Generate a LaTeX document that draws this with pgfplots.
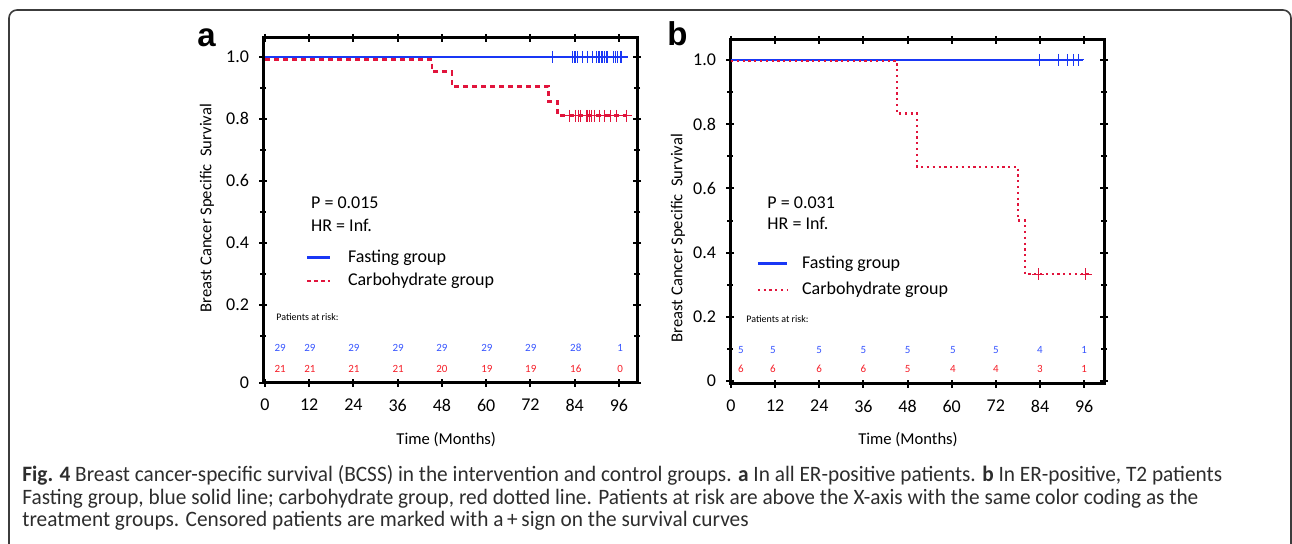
\documentclass[border=0pt]{standalone}
\usepackage{pgfplots}
\pgfplotsset{compat=1.18}
\usepackage{fontspec}
\setmainfont{Carlito}
\newfontfamily\capfont[FakeStretch=0.968]{Carlito}
\newfontfamily\panelfont{Liberation Sans}

\definecolor{kmblue}{RGB}{25,55,245}
\definecolor{kmred}{RGB}{225,20,60}
\definecolor{txtblue}{RGB}{55,85,255}
\definecolor{txtred}{RGB}{245,30,40}
\definecolor{capgray}{RGB}{45,45,45}
\definecolor{framegray}{RGB}{60,60,60}

\pgfplotsset{
  kmaxis/.style={
    scale only axis, width=187pt,
    axis line style={line width=1.5pt},
    tick style={line width=1pt, black},
    tick align=center, major tick length=4pt, minor tick length=3pt,
    xtick={0,12,...,96},
    minor ytick={0.1,0.3,0.5,0.7,0.9},
    yticklabels={0,0.2,0.4,0.6,0.8,1.0},
    ticklabel style={font=\fontsize{9}{10}\selectfont},
    /pgf/number format/assume math mode=true,
    xticklabel style={yshift=-2.5pt},
    yticklabel style={xshift=-1.5pt},
    label style={font=\fontsize{8.3}{9}\selectfont},
    xlabel={Time (Months)},
    ylabel={Breast Cancer Specific\ \ Survival},
    clip=false,
  },
  bluecurve/.style={kmblue, line width=1.3pt},
  censor/.style={only marks, mark=+, mark size=3pt, mark options={solid, line width=0.5pt}},
}
\tikzset{
  risk/.style={font=\fontsize{5.5}{6}\selectfont},
  note/.style={anchor=west, font=\fontsize{9}{10}\selectfont},
}
% row of at-risk numbers: #1 colour, #2 y, #3 list time/count
\newcommand\riskrow[3]{%
  \foreach \tm/\nm in {#3}{%
    \edef\tmp{\noexpand\node[risk, #1] at (axis cs:\tm,#2) {\nm};}\tmp}}

\begin{document}
\begin{tikzpicture}[x=1pt,y=1pt]
\useasboundingbox (0,0) rectangle (646,272);
\begin{scope}
  \clip (0,0) rectangle (646,272);
  \draw[framegray, line width=0.8pt, rounded corners=4pt] (4.5,267) rectangle (645.5,-20);
\end{scope}

% panel labels
\node[anchor=base west, inner sep=0, font=\panelfont\bfseries\fontsize{16.5}{18}\selectfont] at (98.5,248.5) {a};
\node[anchor=base west, inner sep=0, font=\panelfont\bfseries\fontsize{16.5}{18}\selectfont] at (333.5,249) {b};

% ---------- panel a ----------
\begin{axis}[kmaxis,
  at={(131.5pt,80.5pt)}, anchor=south west, height=172.5pt,
  xmin=-0.54, xmax=100.9, ymin=-0.052, ymax=1.061,
  ytick={-0.052,0.2,0.4,0.6,0.8,1.0},
  xlabel style={at={(axis description cs:0.49,-0.165)}, anchor=center},
  ylabel style={at={(axis description cs:-0.150,0.507)}, anchor=center},
]
\addplot[bluecurve] coordinates {(0,1) (98.4,1)};
\addplot[censor, kmblue] coordinates {
(78.1,1) (83.5,1) (83.9,1) (84.3,1) (84.8,1) (86.2,1) (87.6,1) (88.9,1)
(90.0,1) (90.4,1) (90.8,1) (91.2,1) (91.6,1) (92.0,1) (92.5,1) (93.0,1)
(94.4,1) (95.0,1) (95.7,1) (96.3,1) (96.8,1)};
\addplot[kmred, line width=1.4pt, dash pattern=on 2.5pt off 2pt, const plot] coordinates {
(0,0.991) (45.3,0.952) (50.7,0.905) (77,0.857) (79.4,0.810) (98,0.810)};
\addplot[censor, kmred] coordinates {
(82.7,0.810) (84.2,0.810) (85.0,0.810) (85.6,0.810) (87.2,0.810) (87.6,0.810)
(88.0,0.810) (88.5,0.810) (89.3,0.810) (90.8,0.810) (92.2,0.810) (93.6,0.810)
(95.4,0.810) (98.0,0.810)};

\node[note] at (axis cs:10.6,0.529) {P = 0.015};
\node[note] at (axis cs:10.6,0.458) {HR = Inf.};
\draw[kmblue, line width=1.3pt] (axis cs:11.4,0.352) -- (axis cs:17.6,0.352);
\node[note] at (axis cs:20.6,0.352) {Fasting group};
\draw[kmred, line width=1.4pt, dash pattern=on 2pt off 1.5pt] (axis cs:11.4,0.277) -- (axis cs:17.6,0.277);
\node[note] at (axis cs:20.6,0.277) {Carbohydrate group};
\node[anchor=west, inner sep=0, font=\fontsize{5}{6}\selectfont] at (axis cs:3.0,0.161) {Patients at risk:};
\riskrow{txtblue}{0.061}{4.1/29,12.2/29,24.1/29,36.1/29,48/29,60.2/29,72.1/29,84.3/28,96.3/1}
\riskrow{txtred}{-0.006}{4.1/21,12.2/21,24.1/21,36.1/21,48/20,60.2/19,72.1/19,84.3/16,96.3/0}
\end{axis}

% ---------- panel b ----------
\begin{axis}[kmaxis,
  at={(365pt,80pt)}, anchor=south west, height=172pt,
  xmin=-0.27, xmax=101.4, ymin=-0.009, ymax=1.062,
  ytick={0,0.2,0.4,0.6,0.8,1.0},
  xlabel style={at={(axis description cs:0.476,-0.163)}, anchor=center},
  ylabel style={at={(axis description cs:-0.139,0.424)}, anchor=center},
]
\addplot[bluecurve] coordinates {(0,1) (95.7,1)};
\addplot[censor, kmblue] coordinates {(84.0,1) (88.9,1) (91.6,1) (93.0,1) (94.4,1)};
\addplot[kmred, line width=1.2pt, dash pattern=on 1.1pt off 1.8pt, const plot] coordinates {
(0,0.996) (45.1,0.833) (50.5,0.667) (78,0.5) (80,0.333) (97.9,0.333)};
\addplot[censor, kmred] coordinates {(83.5,0.333) (96.5,0.333)};

\node[note] at (axis cs:8.0,0.556) {P = 0.031};
\node[note] at (axis cs:8.0,0.490) {HR = Inf.};
\draw[kmblue, line width=1.3pt] (axis cs:7.3,0.366) -- (axis cs:15.2,0.366);
\node[note] at (axis cs:17.4,0.366) {Fasting group};
\draw[kmred, line width=1.2pt, dash pattern=on 1.1pt off 1.8pt] (axis cs:7.3,0.284) -- (axis cs:15.2,0.284);
\node[note] at (axis cs:17.4,0.284) {Carbohydrate group};
\node[anchor=west, inner sep=0, font=\fontsize{5}{6}\selectfont] at (axis cs:4.1,0.193) {Patients at risk:};
\riskrow{txtblue}{0.097}{2.7/5,11.4/5,24/5,36/5,48/5,60.3/5,72/5,84/4,96/1}
\riskrow{txtred}{0.037}{2.7/6,11.4/6,24/6,36/6,48/5,60.3/4,72/4,84/3,96/1}
\end{axis}

% caption
\begin{scope}[every node/.style={anchor=base west, inner sep=0, text=capgray, font=\capfont\fontsize{11}{13}\selectfont}]
\node at (11,31) {\textbf{Fig. 4} Breast cancer-specific survival (BCSS) in the intervention and control groups. \textbf{a} In all ER-positive patients. \textbf{b} In ER-positive, T2 patients};
\node at (11,19.75) {Fasting group, blue solid line; carbohydrate group, red dotted line. Patients at risk are above the X-axis with the same color coding as the};
\node at (11,8.5) {treatment groups. Censored patients are marked with a\,+\,sign on the survival curves};
\end{scope}
\end{tikzpicture}
\end{document}
